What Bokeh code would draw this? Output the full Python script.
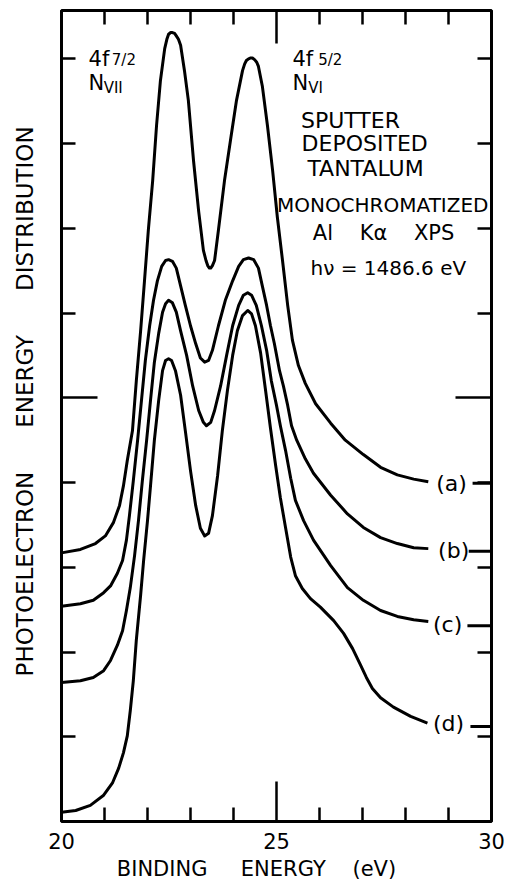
from bokeh.plotting import figure
from bokeh.models import LinearAxis, FixedTicker, Range1d, Label
from bokeh.embed import file_html
from bokeh.resources import INLINE
from bokeh.core.properties import value

FONT = "DejaVu Sans"
NB = "\u00a0"

# ---- data (binding energy in eV, intensity in tick units) ----
x_a = [20.00, 20.44, 20.79, 21.02, 21.21, 21.35, 21.44, 21.53, 21.65, 21.74,
       21.84, 21.93, 22.02, 22.12, 22.21, 22.30, 22.40, 22.45, 22.49, 22.54,
       22.58, 22.63, 22.67, 22.72, 22.77, 22.86, 22.95, 23.07, 23.19, 23.30,
       23.36, 23.40, 23.44, 23.47, 23.51, 23.56, 23.65,
       23.79, 23.93, 24.07, 24.21, 24.26, 24.30, 24.35, 24.40, 24.44, 24.49,
       24.54, 24.58, 24.67, 24.79,
       24.91, 25.02, 25.14, 25.26, 25.37, 25.51, 25.67, 25.91, 26.26, 26.60,
       27.02, 27.42, 27.81, 28.19, 28.53]
y_a = [3.17, 3.21, 3.28, 3.37, 3.53, 3.73, 3.96, 4.26, 4.61, 5.20,
       5.79, 6.38, 6.98, 7.56, 8.21, 8.74, 9.12, 9.23, 9.29, 9.31,
       9.31, 9.30, 9.27, 9.23, 9.16, 8.86, 8.51, 7.80, 7.20, 6.74,
       6.62, 6.56, 6.53, 6.53, 6.56, 6.62, 6.98,
       7.56, 8.04, 8.51, 8.86, 8.94, 8.98, 9.00, 9.01, 9.01, 8.99,
       8.96, 8.91, 8.68, 8.21,
       7.68, 7.13, 6.62, 6.09, 5.68, 5.38, 5.17, 4.93, 4.70, 4.50,
       4.33, 4.18, 4.09, 4.04, 4.01]

x_b = [20.00, 20.44, 20.74, 20.98, 21.14, 21.30, 21.42, 21.51, 21.58, 21.67,
       21.77, 21.86, 21.95, 22.05, 22.14, 22.23, 22.33, 22.42, 22.49, 22.58,
       22.67, 22.77, 22.88, 23.00, 23.12, 23.23, 23.33, 23.42, 23.51, 23.65,
       23.81, 23.98, 24.12, 24.23, 24.35, 24.47, 24.58, 24.67, 24.77, 24.86,
       24.95, 25.07, 25.16, 25.26, 25.35, 25.47, 25.67, 25.86, 26.26, 26.65,
       27.02, 27.42, 27.81, 28.19, 28.53]
y_b = [2.54, 2.57, 2.61, 2.70, 2.78, 2.93, 3.08, 3.32, 3.61, 4.02,
       4.50, 4.97, 5.44, 5.85, 6.15, 6.38, 6.55, 6.62, 6.63, 6.61,
       6.53, 6.32, 6.09, 5.85, 5.64, 5.47, 5.42, 5.44, 5.56, 5.85,
       6.15, 6.38, 6.55, 6.63, 6.65, 6.63, 6.53, 6.32, 6.09, 5.85,
       5.64, 5.32, 5.14, 4.91, 4.67, 4.50, 4.28, 4.11, 3.85, 3.63,
       3.47, 3.35, 3.28, 3.23, 3.22]

x_c = [20.00, 20.44, 20.74, 20.98, 21.14, 21.30, 21.42, 21.51, 21.60, 21.70,
       21.79, 21.88, 21.98, 22.07, 22.16, 22.26, 22.35, 22.42, 22.49, 22.58,
       22.67, 22.77, 22.91, 23.05, 23.19, 23.30, 23.37, 23.47, 23.56, 23.70,
       23.84, 23.98, 24.12, 24.23, 24.33, 24.42, 24.53, 24.65, 24.77, 24.88,
       25.00, 25.09, 25.21, 25.33, 25.44, 25.63, 25.86, 26.26, 26.65, 27.02,
       27.42, 27.81, 28.19, 28.53]
y_c = [1.64, 1.66, 1.70, 1.78, 1.90, 2.08, 2.25, 2.49, 2.76, 3.14,
       3.55, 4.02, 4.50, 4.97, 5.42, 5.76, 6.01, 6.11, 6.15, 6.12,
       6.01, 5.79, 5.50, 5.14, 4.85, 4.71, 4.67, 4.71, 4.85, 5.14,
       5.50, 5.85, 6.09, 6.21, 6.24, 6.21, 6.09, 5.85, 5.56, 5.20,
       4.91, 4.67, 4.38, 4.05, 3.79, 3.55, 3.32, 3.02, 2.76, 2.61,
       2.49, 2.42, 2.38, 2.36]

x_d = [20.00, 20.33, 20.67, 20.98, 21.19, 21.33, 21.44, 21.53, 21.60, 21.67,
       21.74, 21.84, 21.91, 22.00, 22.07, 22.16, 22.26, 22.35, 22.42, 22.49,
       22.56, 22.65, 22.77, 22.88, 23.00, 23.12, 23.23, 23.33, 23.42, 23.51,
       23.63, 23.74, 23.86, 23.98, 24.09, 24.21, 24.33, 24.42, 24.51, 24.63,
       24.74, 24.86, 24.98, 25.09, 25.21, 25.33, 25.44, 25.60, 25.79, 26.02,
       26.33, 26.56, 26.77, 26.95, 27.09, 27.23, 27.42, 27.72, 28.12, 28.51]
y_d = [0.11, 0.13, 0.19, 0.31, 0.46, 0.63, 0.81, 1.01, 1.31, 1.66,
       2.14, 2.67, 3.08, 3.55, 3.96, 4.50, 4.97, 5.32, 5.44, 5.46,
       5.44, 5.32, 5.03, 4.61, 4.14, 3.73, 3.46, 3.37, 3.40, 3.61,
       4.08, 4.61, 5.09, 5.50, 5.79, 5.97, 6.03, 5.99, 5.85, 5.53,
       5.11, 4.64, 4.20, 3.82, 3.47, 3.12, 2.90, 2.75, 2.63, 2.53,
       2.37, 2.22, 2.04, 1.85, 1.70, 1.57, 1.46, 1.35, 1.24, 1.16]

curve_labels = ["(a)", "(b)", "(c)", "(d)"]
label_x = [29.07, 29.12, 28.98, 29.00]
label_y = [3.99, 3.20, 2.32, 1.16]
stub_x0 = [29.56, 29.47, 29.44, 29.51]
stub_y = [3.99, 3.19, 2.31, 1.12]

X_MIN, X_MAX = 20, 30
Y_MIN, Y_MAX = 0, 9.57
x_major = [20, 25, 30]
x_minor = [21, 22, 23, 24, 26, 27, 28, 29]
y_major = [5]
y_minor = [1, 2, 3, 4, 6, 7, 8, 9]

p = figure(width=505, height=886,
           x_range=Range1d(X_MIN, X_MAX), y_range=Range1d(Y_MIN, Y_MAX),
           output_backend="svg", toolbar_location=None,
           min_border_left=61, min_border_right=14, min_border_top=10,
           min_border_bottom=65)
p.grid.visible = False
p.outline_line_color = "black"
p.outline_line_width = 3
p.outline_line_alpha = 1.0

for xs, ys in [(x_a, y_a), (x_b, y_b), (x_c, y_c), (x_d, y_d)]:
    p.line(xs, ys, line_color="black", line_width=3, line_join="round")

p.segment(x0=stub_x0, y0=stub_y, x1=[X_MAX] * len(stub_y), y1=stub_y,
          line_color="black", line_width=3)

p.text(x=label_x, y=label_y, text=curve_labels, text_font=value(FONT),
       text_font_size="22px", text_align="center", text_baseline="middle",
       text_color="black")


def style_axis(ax, major_in, minor_in=14):
    ax.axis_line_color = None
    ax.major_tick_in = major_in
    ax.major_tick_out = 0
    ax.minor_tick_in = minor_in
    ax.minor_tick_out = 0
    ax.major_tick_line_width = 2.5
    ax.minor_tick_line_width = 2.5
    ax.major_tick_line_color = "black"
    ax.minor_tick_line_color = "black"


# bottom axis
xb = p.xaxis[0]
xb.ticker = FixedTicker(ticks=x_major, minor_ticks=x_minor)
style_axis(xb, 40)
xb.major_label_text_font = FONT
xb.major_label_text_font_size = "21px"
xb.major_label_text_color = "black"
xb.major_label_standoff = 11
xb.axis_label = "BINDING" + NB * 5 + "ENERGY" + NB * 4 + "(eV)" + NB * 6
xb.axis_label_text_font = FONT
xb.axis_label_text_font_style = "normal"
xb.axis_label_text_font_size = "21px"
xb.axis_label_text_color = "black"
xb.axis_label_standoff = 5

# left axis
yl = p.yaxis[0]
yl.ticker = FixedTicker(ticks=y_major, minor_ticks=y_minor)
style_axis(yl, 36)
yl.major_label_overrides = {5: ""}
yl.major_label_standoff = 0
yl.axis_label = NB * 4 + "PHOTOELECTRON" + NB * 6 + "ENERGY" + NB * 6 + "DISTRIBUTION"
yl.axis_label_text_font = FONT
yl.axis_label_text_font_style = "normal"
yl.axis_label_text_font_size = "23px"
yl.axis_label_text_color = "black"
yl.axis_label_standoff = 24

# right axis
yr = LinearAxis(ticker=FixedTicker(ticks=y_major, minor_ticks=y_minor),
                major_label_overrides={5: ""}, major_label_standoff=0,
                major_label_text_font_size="1px")
style_axis(yr, 36)
p.add_layout(yr, "right")

# top axis
xt = LinearAxis(ticker=FixedTicker(ticks=x_major, minor_ticks=x_minor),
                major_label_overrides={20: "", 25: "", 30: ""},
                major_label_standoff=0, major_label_text_font_size="1px")
style_axis(xt, 33)
p.add_layout(xt, "above")


def lab(x, y, text, size, align="left"):
    p.add_layout(Label(x=x, y=y, text=text, text_font=FONT,
                       text_font_size=size, text_align=align,
                       text_baseline="alphabetic", text_color="black"))


lab(20.63, 9.00, "4f", "21px")
lab(21.17, 8.98, "7/2", "15px")
lab(20.63, 8.71, "N", "21px")
lab(20.98, 8.65, "VII", "15px")
lab(25.37, 9.00, "4f", "21px")
lab(25.97, 8.98, "5/2", "15px")
lab(25.37, 8.71, "N", "21px")
lab(25.74, 8.65, "VI", "15px")
lab(26.72, 8.27, "SPUTTER", "22px", "center")
lab(27.05, 8.00, "DEPOSITED", "22px", "center")
lab(27.07, 7.71, "TANTALUM", "22px", "center")
lab(27.47, 7.28, "MONOCHROMATIZED", "20px", "center")
lab(27.49, 6.94, "Al" + NB * 4 + "K\u03b1" + NB * 4 + "XPS", "21px", "center")
lab(27.60, 6.53, "h\u03bd = 1486.6 eV", "20px", "center")

open("out.html", "w").write(file_html(p, INLINE))
